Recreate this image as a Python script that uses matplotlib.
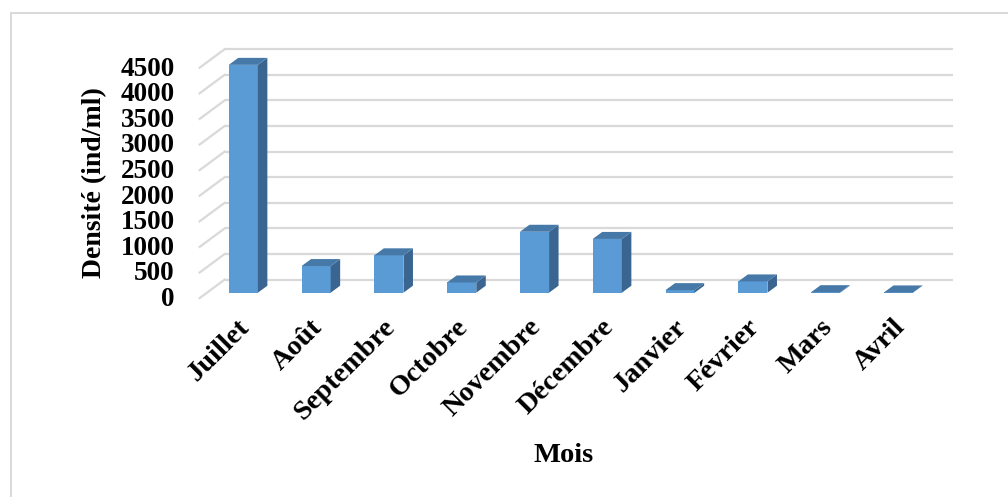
import matplotlib
matplotlib.use("Agg")
import matplotlib.pyplot as plt
from matplotlib.patches import Polygon, Rectangle

plt.rcParams['font.family'] = ['Liberation Serif', 'DejaVu Serif']
plt.rcParams['font.weight'] = 'bold'

# monthly density
mois = ['Juillet', 'Août', 'Septembre', 'Octobre', 'Novembre',
        'Décembre', 'Janvier', 'Février', 'Mars', 'Avril']
densite = [4450, 520, 730, 200, 1190, 1050, 50, 220, 10, 5]
yticks = [0, 500, 1000, 1500, 2000, 2500, 3000, 3500, 4000, 4500]

front_col = '#5B9BD5'
side_col = '#3A6591'
top_col = '#4678A8'
grid_col = '#D9D9D9'

W, H = 1008, 497
fig = plt.figure(figsize=(W / 100, H / 100), dpi=100)

# axes = plane of the bar fronts (pixel layout of the 3d box)
left, right, top, bottom = 206.9, 934.9, 62.3, 292.7
ax = fig.add_axes([left / W, 1 - bottom / H, (right - left) / W, (bottom - top) / H])
ax.set_xlim(-0.5, len(mois) - 0.5)
ax.set_ylim(0, 4500)
ax.axis('off')
ax.patch.set_alpha(0)

# pixel -> data conversion
px_x = (right - left) / len(mois)
px_y = (bottom - top) / 4500.0

def off(dx, dy):
    return dx / px_x, dy / px_y

# depth geometry in pixels (image up = +)
wall = off(17.75, 13.1)
front = off(-7.25, -5.4)
depth = off(9.5, 7.0)

x0, x1 = -0.5, len(mois) - 0.5
for v in yticks:
    ax.plot([x0 + wall[0], x1 + wall[0]], [v + wall[1], v + wall[1]],
            color=grid_col, lw=1.6, zorder=1, clip_on=False, solid_capstyle='butt')
    ax.plot([x0 + front[0], x0 + wall[0]], [v + front[1], v + wall[1]],
            color=grid_col, lw=1.6, zorder=1, clip_on=False)
    ax.text(x0 + front[0] - 25 / px_x, v + front[1] - 1.5 / px_y, str(v), ha='right', va='center',
            fontsize=19.5, fontweight='bold', clip_on=False)

w = 0.4
for i, v in enumerate(densite):
    ax.bar(i, v, width=w, color=front_col, zorder=3, clip_on=False)
    xr = i + w / 2
    xl = i - w / 2
    side = Polygon([(xr, 0), (xr + depth[0], depth[1]), (xr + depth[0], v + depth[1]), (xr, v)],
                   closed=True, facecolor=side_col, edgecolor='none', zorder=3, clip_on=False)
    topf = Polygon([(xl, v), (xr, v), (xr + depth[0], v + depth[1]), (xl + depth[0], v + depth[1])],
                   closed=True, facecolor=top_col, edgecolor='none', zorder=4, clip_on=False)
    ax.add_patch(side)
    ax.add_patch(topf)
    ax.text(i - 6 / px_x, -22 / px_y, mois[i], rotation=45, rotation_mode='anchor',
            ha='right', va='top', fontsize=20.5, fontweight='bold', clip_on=False)

fig.text(95 / W, 1 - 183 / H, 'Densité (ind/ml)', rotation=90, ha='center', va='center',
         fontsize=20, fontweight='bold')
fig.text(564 / W, 1 - 455 / H, 'Mois', ha='center', va='center', fontsize=20.5, fontweight='bold')

# chart area frame
fig.patches.append(Rectangle((11 / W, -0.1), 1.2, 1.1 - 13 / H, transform=fig.transFigure,
                             fill=False, edgecolor=grid_col, lw=1.4))

fig.savefig('out.png', dpi=100)
